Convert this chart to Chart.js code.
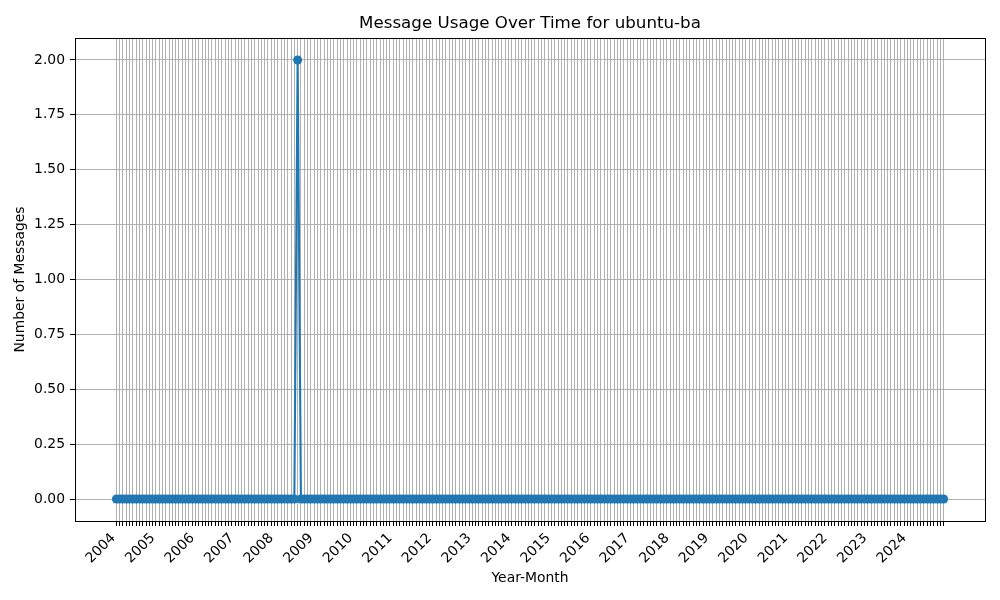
<!DOCTYPE html>
<html>
<head>
<meta charset="utf-8">
<script src="https://cdn.jsdelivr.net/npm/chart.js@4.4.1/dist/chart.umd.min.js"></script>
<style>
html,body{margin:0;padding:0;background:#fff;}
#wrap{width:1000px;height:600px;position:relative;}
</style>
</head>
<body>
<div id="wrap"><canvas id="c"></canvas></div>
<script>
// Categories: one per month, 2004-01 .. 2024-12
const years = [2004,2005,2006,2007,2008,2009,2010,2011,2012,2013,2014,2015,2016,2017,2018,2019,2020,2021,2022,2023,2024];
const monthNames = ["01","02","03","04","05","06","07","08","09","10","11","12"];
const months = [];
years.forEach(y => monthNames.forEach(m => months.push(y + "-" + m)));

// Message counts per month (rows = years 2004..2024, columns = Jan..Dec)
const messages = [
  0,0,0,0,0,0,0,0,0,0,0,0, // 2004
  0,0,0,0,0,0,0,0,0,0,0,0, // 2005
  0,0,0,0,0,0,0,0,0,0,0,0, // 2006
  0,0,0,0,0,0,0,0,0,0,0,0, // 2007
  0,0,0,0,0,0,0,2,0,0,0,0, // 2008
  0,0,0,0,0,0,0,0,0,0,0,0, // 2009
  0,0,0,0,0,0,0,0,0,0,0,0, // 2010
  0,0,0,0,0,0,0,0,0,0,0,0, // 2011
  0,0,0,0,0,0,0,0,0,0,0,0, // 2012
  0,0,0,0,0,0,0,0,0,0,0,0, // 2013
  0,0,0,0,0,0,0,0,0,0,0,0, // 2014
  0,0,0,0,0,0,0,0,0,0,0,0, // 2015
  0,0,0,0,0,0,0,0,0,0,0,0, // 2016
  0,0,0,0,0,0,0,0,0,0,0,0, // 2017
  0,0,0,0,0,0,0,0,0,0,0,0, // 2018
  0,0,0,0,0,0,0,0,0,0,0,0, // 2019
  0,0,0,0,0,0,0,0,0,0,0,0, // 2020
  0,0,0,0,0,0,0,0,0,0,0,0, // 2021
  0,0,0,0,0,0,0,0,0,0,0,0, // 2022
  0,0,0,0,0,0,0,0,0,0,0,0, // 2023
  0,0,0,0,0,0,0,0,0,0,0,0  // 2024
];

// Y tick values
const yTicks = [0,0.25,0.5,0.75,1.0,1.25,1.5,1.75,2.0];

const titleText = "Message Usage Over Time for ubuntu-ba";
const xTitle = "Year-Month";
const yTitle = "Number of Messages";

Chart.defaults.font.family = "'DejaVu Sans', sans-serif";
Chart.defaults.color = "#000";

const points = months.map((m, i) => ({x: i, y: messages[i]}));
const n = months.length;
const margin = (n - 1) * 0.05;

const framePlugin = {
  id: 'frame',
  afterDraw(chart) {
    const {ctx, chartArea: a} = chart;
    ctx.save();
    ctx.strokeStyle = '#000';
    ctx.lineWidth = 1;
    const l = Math.round(a.left), t = Math.round(a.top);
    const r = Math.round(a.right), b = Math.round(a.bottom);
    ctx.strokeRect(l + 0.5, t + 0.5, r - l, b - t);
    ctx.fillStyle = '#000';
    ctx.font = "16.7px 'DejaVu Sans', sans-serif";
    ctx.textAlign = 'center';
    ctx.textBaseline = 'alphabetic';
    ctx.fillText(titleText, (a.left + a.right) / 2, 28);
    ctx.restore();
  }
};

new Chart(document.getElementById('c'), {
  type: 'line',
  data: {
    datasets: [{
      data: points,
      borderColor: '#1f77b4',
      backgroundColor: '#1f77b4',
      borderWidth: 2.1,
      pointRadius: 4.5,
      pointHoverRadius: 4.5,
      pointBorderWidth: 0,
      pointBackgroundColor: '#1f77b4',
      tension: 0,
      fill: false
    }]
  },
  plugins: [framePlugin],
  options: {
    responsive: true,
    maintainAspectRatio: false,
    animation: false,
    events: [],
    layout: {padding: {left: 0, right: 15, top: 38, bottom: 0}},
    plugins: {
      legend: {display: false},
      title: {display: false},
      tooltip: {enabled: false}
    },
    scales: {
      x: {
        type: 'linear',
        min: -margin,
        max: (n - 1) + margin,
        afterBuildTicks: (s) => { s.ticks = months.map((m, i) => ({value: i})); },
        afterFit: (s) => { s.height = 79; },
        ticks: {
          autoSkip: false,
          maxRotation: 45,
          minRotation: 45,
          padding: 4,
          labelOffset: -3,
          font: {size: 13.9},
          callback: (v) => {
            const m = months[v];
            return (m && m.endsWith('-01')) ? m.slice(0, 4) : '';
          }
        },
        grid: {
          color: '#b0b0b0',
          lineWidth: 1,
          drawTicks: true,
          tickLength: 5,
          tickColor: '#000',
          tickWidth: 1
        },
        border: {display: false},
        title: {
          display: true,
          text: xTitle,
          font: {size: 13.9},
          padding: {top: 0, bottom: 13}
        }
      },
      y: {
        type: 'linear',
        min: -0.1,
        max: 2.1,
        afterBuildTicks: (s) => { s.ticks = yTicks.map(v => ({value: v})); },
        afterFit: (s) => { s.width = 75; },
        ticks: {
          padding: 5,
          font: {size: 13.9},
          callback: (v) => Number(v).toFixed(2)
        },
        grid: {
          color: '#b0b0b0',
          lineWidth: 1,
          drawTicks: true,
          tickLength: 5,
          tickColor: '#000',
          tickWidth: 1
        },
        border: {display: false},
        title: {
          display: true,
          text: yTitle,
          font: {size: 13.9},
          padding: {top: 12, bottom: 0}
        }
      }
    }
  }
});
</script>
</body>
</html>
